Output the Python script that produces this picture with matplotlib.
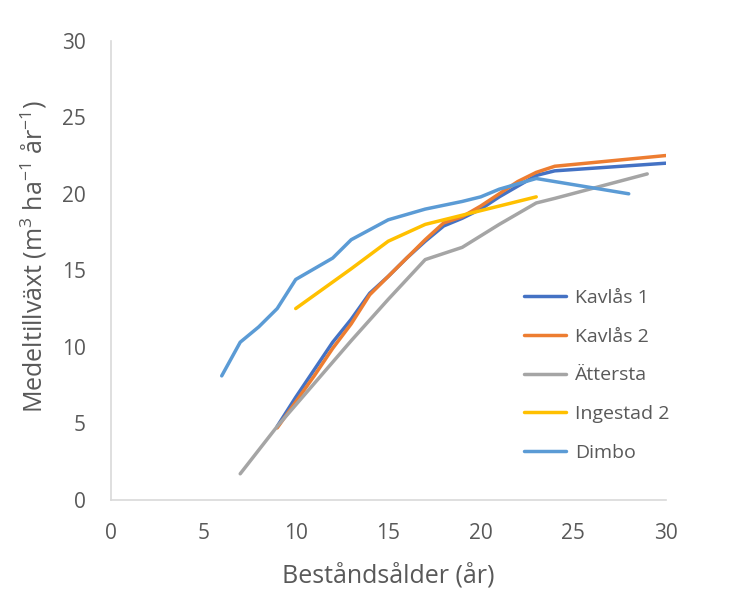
import matplotlib.pyplot as plt

plt.rcParams['font.family'] = ['Open Sans', 'DejaVu Sans']
plt.rcParams['mathtext.fontset'] = 'custom'
plt.rcParams['mathtext.rm'] = 'Open Sans'

# data
kavlas1_x = [9, 10, 11, 12, 13, 14, 15, 16, 17, 18, 19, 20, 21, 22, 23, 24, 30]
kavlas1_y = [4.8, 6.7, 8.5, 10.3, 11.8, 13.5, 14.6, 15.8, 16.9, 17.9, 18.4, 19.0, 19.8, 20.5, 21.2, 21.5, 22.0]

kavlas2_x = [9, 10, 11, 12, 13, 14, 15, 16, 17, 18, 19, 20, 21, 22, 23, 24, 30]
kavlas2_y = [4.7, 6.4, 8.1, 9.9, 11.5, 13.4, 14.6, 15.8, 17.0, 18.1, 18.5, 19.2, 20.0, 20.8, 21.4, 21.8, 22.5]

attersta_x = [7, 9, 11, 13, 15, 17, 19, 21, 23, 24, 29]
attersta_y = [1.7, 4.8, 7.6, 10.4, 13.1, 15.7, 16.5, 18.0, 19.4, 19.7, 21.3]

ingestad_x = [10, 13, 15, 17, 19, 21, 23]
ingestad_y = [12.5, 15.1, 16.9, 18.0, 18.6, 19.2, 19.8]

dimbo_x = [6, 7, 8, 9, 10, 12, 13, 15, 17, 19, 20, 21, 23, 28]
dimbo_y = [8.1, 10.3, 11.3, 12.5, 14.4, 15.8, 17.0, 18.3, 19.0, 19.5, 19.8, 20.3, 21.0, 20.0]

series = [
    ('Kavlås 1', kavlas1_x, kavlas1_y, '#4472C4'),
    ('Kavlås 2', kavlas2_x, kavlas2_y, '#ED7D31'),
    ('Ättersta', attersta_x, attersta_y, '#A5A5A5'),
    ('Ingestad 2', ingestad_x, ingestad_y, '#FFC000'),
    ('Dimbo', dimbo_x, dimbo_y, '#5B9BD5'),
]

txt = '#595959'
fig = plt.figure(figsize=(7.43, 6.0), dpi=100)
ax = fig.add_axes([0.149, 0.167, 0.747, 0.765])

for name, xs, ys, col in series:
    ax.plot(xs, ys, color=col, lw=2.5, label=name, solid_capstyle='round')

ax.set_xlim(0, 30)
ax.set_ylim(0, 30)
ax.set_xticks(range(0, 31, 5))
ax.set_yticks(range(0, 31, 5))
ax.tick_params(length=0, labelsize=15, colors=txt)
ax.tick_params(axis='x', pad=17)
ax.tick_params(axis='y', pad=18)
for s in ['top', 'right']:
    ax.spines[s].set_visible(False)
for s in ['left', 'bottom']:
    ax.spines[s].set_color('#D9D9D9')
    ax.spines[s].set_linewidth(1.2)

ax.set_xlabel('Beståndsålder (år)', fontsize=18, color=txt)
ax.set_ylabel('Medeltillväxt (m$^{3}$ ha$^{-1}$ år$^{-1}$)', fontsize=18, color=txt)
ax.xaxis.set_label_coords(0.5, -0.137)
ax.yaxis.set_label_coords(-0.112, 0.53)

ax.legend(loc='upper left', bbox_to_anchor=(0.682, 0.548), bbox_transform=fig.transFigure,
          frameon=False, fontsize=14, labelcolor=txt, handlelength=2.15,
          handletextpad=0.45, labelspacing=1.07)

fig.savefig('out.png', dpi=100)
